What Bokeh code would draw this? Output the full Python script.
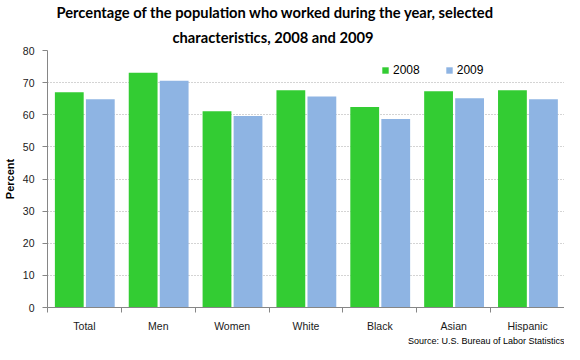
from bokeh.plotting import figure
from bokeh.models import Range1d, FixedTicker, Legend, LegendItem, Title
from bokeh.embed import file_html
from bokeh.resources import INLINE

categories = ["Total", "Men", "Women", "White", "Black", "Asian", "Hispanic"]
series_names = ["2008", "2009"]
values_2008 = [67.0, 73.1, 61.1, 67.6, 62.4, 67.3, 67.6]
values_2009 = [64.8, 70.6, 59.6, 65.7, 58.7, 65.1, 64.8]
y_ticks = [0, 10, 20, 30, 40, 50, 60, 70, 80]

title_lines = ["Percentage of the population  who worked during the year, selected",
               "characteristics, 2008 and 2009"]
source_text = "Source: U.S. Bureau of Labor Statistics"

GREEN = "#33CC33"
BLUE = "#8EB4E3"
AXIS = "#868686"

n = len(categories)
p = figure(width=564, height=344, output_backend="svg", toolbar_location=None,
           x_range=Range1d(0, n), y_range=Range1d(0, 80),
           min_border_left=46, min_border_right=0, min_border_top=49, min_border_bottom=33)
p.outline_line_color = None
p.background_fill_color = "white"

centers = [i + 0.5 for i in range(n)]
x08 = [c - 0.205 for c in centers]
x09 = [c + 0.215 for c in centers]
r1 = p.vbar(x=x08, top=values_2008, width=0.39, fill_color=GREEN, line_color=None)
r2 = p.vbar(x=x09, top=values_2009, width=0.39, fill_color=BLUE, line_color=None)

# x axis
p.xaxis.ticker = FixedTicker(ticks=centers, minor_ticks=list(range(n + 1)))
p.xaxis.major_label_overrides = {c: cat for c, cat in zip(centers, categories)}
p.xaxis.major_tick_line_color = None
p.xaxis.minor_tick_line_color = AXIS
p.xaxis.minor_tick_out = 5
p.xaxis.minor_tick_in = 0
p.xaxis.axis_line_color = AXIS
p.xaxis.major_label_standoff = 6
p.xaxis.major_label_text_font = "Liberation Sans"
p.xaxis.major_label_text_font_size = "10.5px"
p.xaxis.major_label_text_color = "#1a1a1a"
p.xgrid.grid_line_color = None

# y axis
p.yaxis.ticker = FixedTicker(ticks=y_ticks)
p.yaxis.axis_line_color = AXIS
p.yaxis.major_tick_line_color = AXIS
p.yaxis.major_tick_out = 5
p.yaxis.major_tick_in = 0
p.yaxis.minor_tick_line_color = None
p.yaxis.major_label_standoff = 8
p.yaxis.major_label_text_font = "Liberation Sans"
p.yaxis.major_label_text_font_size = "10.5px"
p.yaxis.major_label_text_color = "#1a1a1a"
p.yaxis.axis_label = "Percent"
p.yaxis.axis_label_standoff = 4
p.yaxis.axis_label_text_font = "Liberation Sans"
p.yaxis.axis_label_text_font_style = "bold"
p.yaxis.axis_label_text_font_size = "11px"
p.yaxis.axis_label_text_color = "#000000"
p.ygrid.grid_line_color = "#a8a8a8"
p.ygrid.grid_line_dash = "1 2"

# legend
legend = Legend(items=[LegendItem(label=series_names[0], renderers=[r1]),
                       LegendItem(label=series_names[1], renderers=[r2])],
                orientation="horizontal", location=(334, 230),
                glyph_width=8, glyph_height=8, label_standoff=4, spacing=25,
                padding=0, margin=0, border_line_color=None, background_fill_alpha=0,
                label_text_font="Liberation Sans", label_text_font_size="12px",
                label_height=8, label_text_color="#000000")
p.add_layout(legend, "center")

# title (second line added first so that it sits nearest the plot)
p.add_layout(Title(text=title_lines[1], align="left", offset=125,
                   text_font="Lato", text_font_style="bold", text_font_size="14.7px",
                   text_color="#000000", standoff=9), "above")
p.add_layout(Title(text=title_lines[0], align="left", offset=9,
                   text_font="Lato", text_font_style="bold", text_font_size="14.7px",
                   text_color="#000000", standoff=1), "above")

# source
p.add_layout(Title(text=source_text, align="right", offset=0,
                   text_font="Liberation Sans", text_font_style="normal",
                   text_font_size="9px", text_color="#000000", standoff=-2), "below")

open("out.html", "w").write(file_html(p, INLINE))
